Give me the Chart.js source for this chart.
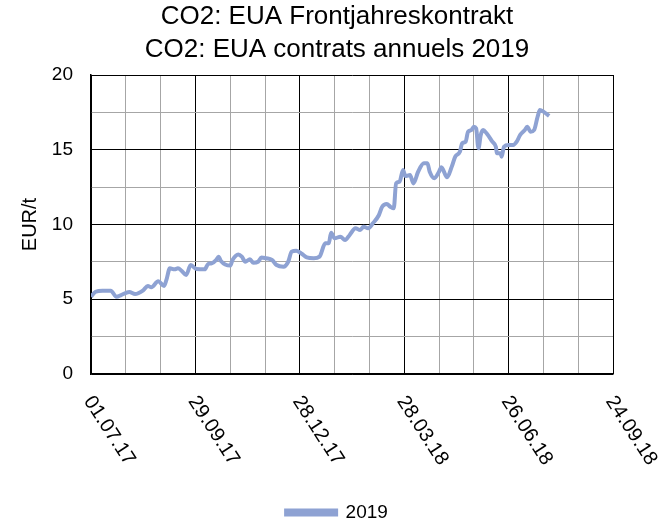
<!DOCTYPE html>
<html>
<head>
<meta charset="utf-8">
<script src="https://cdn.jsdelivr.net/npm/chart.js@4"></script>
<style>
	body { margin: 0; background: #fff; }
	#wrap { width: 663px; height: 527px; }
</style>
</head>
<body>
<div id="wrap"><canvas id="co2Chart" width="663" height="527"></canvas></div>
<script>
// days since 01.07.17
const days = [
	0, 4, 10, 17, 22, 26, 33, 38, 45, 49, 52, 58, 63, 65, 68, 72, 75, 78, 82, 86,
	91, 98, 101, 104, 108, 110, 112, 120, 122, 127, 130, 133, 137, 140, 144, 147, 151, 156, 160, 166,
	170, 173, 177, 182, 186, 192, 197, 202, 205, 207, 210, 215, 219, 223, 228, 232, 235, 239, 243, 248,
	251, 255, 258, 261, 263, 266, 269, 271, 275, 278, 282, 287, 290, 292, 296, 300, 302, 307, 311, 314,
	318, 320, 323, 325, 328, 330, 332, 334, 336, 338, 341, 346, 349, 350, 353, 354, 356, 360, 364, 367,
	370, 374, 376, 379, 382, 385, 387, 390, 395,
];
const prices2019 = [
	5.17, 5.5, 5.57, 5.57, 5.17, 5.28, 5.48, 5.35, 5.6, 5.89, 5.8, 6.2, 5.89, 6.29, 7.07, 7.0, 7.07, 6.91, 6.62, 7.29,
	7.02, 7.0, 7.36, 7.4, 7.63, 7.85, 7.56, 7.25, 7.63, 8.0, 7.85, 7.51, 7.67, 7.44, 7.51, 7.8, 7.74, 7.63, 7.29, 7.18,
	7.51, 8.18, 8.25, 8.03, 7.8, 7.74, 7.85, 8.74, 8.74, 9.45, 9.08, 9.18, 8.96, 9.3, 9.75, 9.63, 9.85, 9.75, 10.08, 10.6,
	11.19, 11.37, 11.19, 11.08, 12.75, 12.86, 13.65, 13.24, 13.31, 12.75, 13.53, 14.09, 14.09, 13.53, 13.09, 13.53, 13.83, 13.16, 13.87, 14.54,
	14.87, 15.43, 15.54, 16.2, 16.32, 16.54, 16.43, 15.1, 15.99, 16.32, 16.1, 15.54, 15.2, 14.76, 14.76, 14.54, 15.2, 15.32, 15.32, 15.54,
	15.99, 16.32, 16.54, 16.2, 16.32, 17.21, 17.66, 17.55, 17.26,
];
const tickDays = [0, 90, 180, 270, 360, 450];
const tickLabels = ["01.07.17", "29.09.17", "28.12.17", "28.03.18", "26.06.18", "24.09.18"];
const yTicks = [0, 5, 10, 15, 20];

const lineColor = "#8EA2D3";
Chart.defaults.font.family = "'Liberation Sans', Arial, sans-serif";
Chart.defaults.color = "#000";

// rotated date labels, reading downwards from the tick
const xLabels = {
	id: "xLabels",
	afterDraw(chart) {
		const ctx = chart.ctx;
		const xs = chart.scales.x;
		ctx.save();
		ctx.font = "20px 'Liberation Sans', Arial, sans-serif";
		ctx.fillStyle = "#000";
		ctx.textAlign = "left";
		ctx.textBaseline = "middle";
		tickDays.forEach((d, i) => {
			ctx.save();
			ctx.translate(xs.getPixelForValue(d) - 3, xs.top + 24);
			ctx.rotate((57 * Math.PI) / 180);
			ctx.fillText(tickLabels[i], 0, 0);
			ctx.restore();
		});
		ctx.restore();
	},
};

const ctxCo2 = document.getElementById("co2Chart").getContext("2d");
const co2Chart = new Chart(ctxCo2, {
	type: "line",
	data: {
		datasets: [
			{
				label: "2019",
				data: days.map((d, i) => ({ x: d, y: prices2019[i] })),
				borderColor: lineColor,
				backgroundColor: lineColor,
				borderWidth: 4,
				pointRadius: 0,
				cubicInterpolationMode: "monotone",
				yAxisID: "y",
			},
		],
	},
	options: {
		responsive: false,
		animation: false,
		layout: { padding: { left: 11, right: 0, top: 0, bottom: -5 } },
		plugins: {
			title: {
				display: true,
				text: ["CO2: EUA Frontjahreskontrakt", "CO2: EUA contrats annuels 2019"],
				font: { size: 26, weight: "normal", lineHeight: 1.25 },
				color: "#000",
				padding: { top: 1, bottom: 9 },
			},
			legend: {
				position: "bottom",
				labels: {
					boxWidth: 50,
					boxHeight: 4,
					padding: 6,
					font: { size: 19 },
					color: "#000",
				},
			},
			tooltip: { enabled: false },
		},
		scales: {
			x: {
				type: "linear",
				min: 0,
				max: 450,
				ticks: { display: false, stepSize: 30 },
				grid: {
					drawTicks: false,
					color: (c) => (c.tick.value % 90 === 0 ? "#000" : "#A6A6A6"),
					lineWidth: 1,
				},
				border: { color: "#000", width: 1.5 },
				afterFit: (scale) => { scale.height = 123; },
			},
			y: {
				min: 0,
				max: 20,
				ticks: {
					stepSize: 2.5,
					padding: 18,
					font: { size: 19 },
					callback: (v) => (yTicks.includes(v) ? v : ""),
				},
				grid: {
					drawTicks: false,
					color: (c) => (c.tick.value % 5 === 0 ? "#000" : "#A6A6A6"),
					lineWidth: 1,
				},
				border: { color: "#000", width: 1.5 },
				title: {
					display: true,
					text: "EUR/t",
					font: { size: 20 },
					color: "#000",
					padding: { top: 7, bottom: 0 },
				},
				afterFit: (scale) => { scale.width = 80; },
			},
			yR: {
				position: "right",
				min: 0,
				max: 20,
				ticks: { display: false },
				grid: { display: false },
				border: { display: false },
				afterFit: (scale) => { scale.width = 50; },
			},
		},
	},
	plugins: [xLabels],
});
</script>
</body>
</html>
